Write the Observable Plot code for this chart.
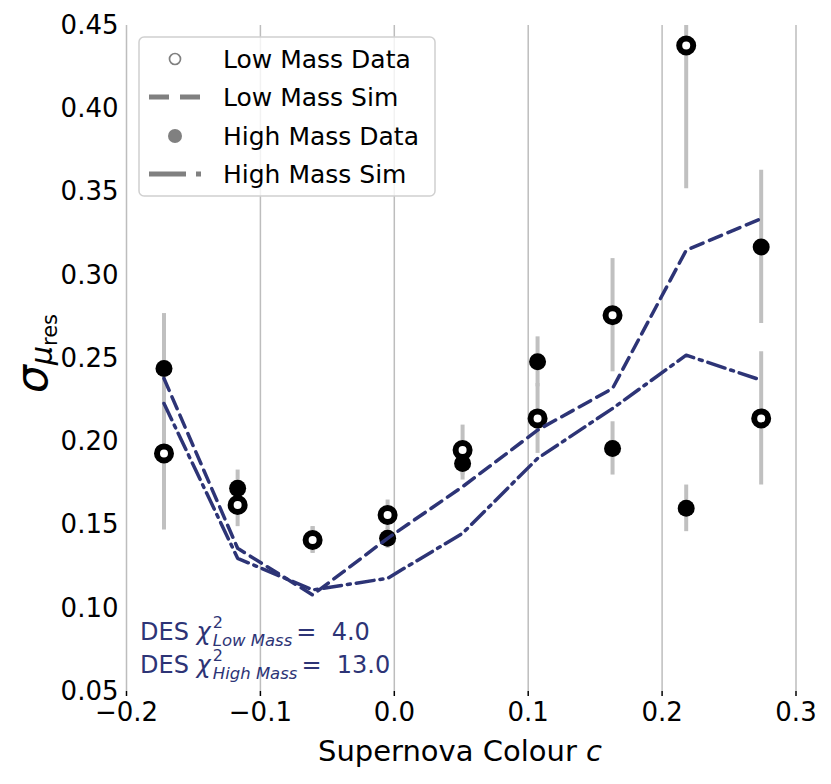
<!DOCTYPE html>
<html><head><meta charset="utf-8">
<script src="https://cdn.jsdelivr.net/npm/d3@7"></script>
<script src="https://cdn.jsdelivr.net/npm/@observablehq/plot@0.6"></script>
<style>
body{margin:0;background:#fff;}
#wrap{width:831px;height:784px;}
</style></head><body><div id="wrap"></div>
<script>
const colour   = [-0.172, -0.117, -0.061, -0.005, 0.051, 0.107, 0.163, 0.218, 0.274];
const lowData  = [0.193, 0.162, 0.141, 0.156, 0.195, 0.214, 0.276, 0.438, 0.214];
const lowErr   = [0.046, 0.013, 0.008, 0.009, 0.015, 0.021, 0.034, 0.086, 0.040];
const highData = [0.244, 0.172, 0.141, 0.142, 0.187, 0.248, 0.196, 0.160, 0.317];
const highErr  = [0.033, 0.011, 0.008, 0.006, 0.010, 0.015, 0.016, 0.014, 0.046];
const lowSim   = [0.238, 0.136, 0.108, 0.142, 0.173, 0.207, 0.232, 0.315, 0.334];
const highSim  = [0.223, 0.130, 0.111, 0.118, 0.145, 0.190, 0.220, 0.252, 0.237];
const xTicks = [-0.2, -0.1, 0.0, 0.1, 0.2, 0.3];
const yTicks = [0.05, 0.10, 0.15, 0.20, 0.25, 0.30, 0.35, 0.40, 0.45];
const legendLabels = ["Low Mass Data", "Low Mass Sim", "High Mass Data", "High Mass Sim"];
const chiLow = "4.0", chiHigh = "13.0";

const NAVY = "#2d3476";
const ERR = "#c0c0c0";
const idx = d3.range(colour.length);

const chart = Plot.plot({
  width: 831, height: 784,
  marginLeft: 126, marginRight: 35.5, marginTop: 25, marginBottom: 93,
  x: {domain: [-0.2, 0.3]},
  y: {domain: [0.05, 0.45]},
  style: {fontFamily: "DejaVu Sans", color: "black", background: "white", overflow: "visible"},
  marks: [
    Plot.gridX(xTicks, {stroke: "#bdbdbd", strokeOpacity: 1, strokeWidth: 1.5}),
    Plot.axisX({ticks: xTicks, tickSize: 5, tickPadding: 6, strokeWidth: 1.5, fontSize: 26, tickFormat: d3.format(".1f"), label: null}),
    Plot.axisY({ticks: yTicks, tickSize: 0, tickPadding: 8, fontSize: 26, tickFormat: d3.format(".2f"), label: null}),
    Plot.ruleX(idx, {x: i => colour[i], y1: i => lowData[i] - lowErr[i], y2: i => lowData[i] + lowErr[i], stroke: ERR, strokeWidth: 4, clip: true}),
    Plot.ruleX(idx, {x: i => colour[i], y1: i => highData[i] - highErr[i], y2: i => highData[i] + highErr[i], stroke: ERR, strokeWidth: 4, clip: true}),
    Plot.dot(idx, {x: i => colour[i], y: i => highData[i], r: 8.5, fill: "black", stroke: "none"}),
    Plot.dot(idx, {x: i => colour[i], y: i => lowData[i], r: 7, fill: "white", stroke: "black", strokeWidth: 6}),
    Plot.line(idx, {x: i => colour[i], y: i => lowSim[i], stroke: NAVY, strokeWidth: 3.5, strokeDasharray: "13,7"}),
    Plot.line(idx, {x: i => colour[i], y: i => highSim[i], stroke: NAVY, strokeWidth: 3.5, strokeDasharray: "18,6,3,6"})
  ]
});
document.getElementById("wrap").appendChild(chart);

const svg = d3.select(chart);
const g = svg.append("g").attr("font-family", "DejaVu Sans").attr("text-anchor", "start");

// Legend
const lg = g.append("g");
lg.append("rect").attr("x", 139).attr("y", 37).attr("width", 296).attr("height", 159).attr("rx", 5)
  .attr("fill", "white").attr("fill-opacity", 0.8).attr("stroke", "#d0d0d0").attr("stroke-width", 1.5);
const rowY = [59, 97, 136, 174];
lg.append("circle").attr("cx", 175).attr("cy", rowY[0]).attr("r", 5.5).attr("fill", "white").attr("stroke", "#808080").attr("stroke-width", 1.7);
lg.append("line").attr("x1", 149).attr("x2", 202).attr("y1", rowY[1]).attr("y2", rowY[1]).attr("stroke", "#808080").attr("stroke-width", 5).attr("stroke-dasharray", "20,11");
lg.append("circle").attr("cx", 175).attr("cy", rowY[2]).attr("r", 7).attr("fill", "#808080");
lg.append("line").attr("x1", 149).attr("x2", 202).attr("y1", rowY[3]).attr("y2", rowY[3]).attr("stroke", "#808080").attr("stroke-width", 5).attr("stroke-dasharray", "37,10,5,10");
legendLabels.forEach((t, k) => {
  lg.append("text").attr("x", 223).attr("y", rowY[k] + 9).attr("font-size", 25).attr("fill", "black").text(t);
});

// x label
const xl = g.append("text").attr("x", 460).attr("y", 761).attr("font-size", 29).attr("text-anchor", "middle").attr("fill", "black");
xl.append("tspan").text("Supernova Colour ");
xl.append("tspan").attr("font-style", "italic").text("c");

// y label
const yl = g.append("text").attr("transform", "translate(47,393) rotate(-90)").attr("font-size", 44).attr("fill", "black");
yl.append("tspan").attr("font-style", "italic").text("σ");
yl.append("tspan").attr("font-style", "italic").attr("font-size", 30).attr("dy", 5).text("μ");
yl.append("tspan").attr("font-size", 21).attr("dy", 5).text("res");

// chi^2 annotations
function chiLine(y, sub, val) {
  const t1 = g.append("text").attr("x", 140).attr("y", y).attr("font-size", 24).attr("fill", NAVY);
  t1.append("tspan").text("DES ");
  t1.append("tspan").attr("font-style", "italic").text("χ");
  const x1 = 140 + t1.node().getComputedTextLength() + 2;
  g.append("text").attr("x", x1).attr("y", y - 12).attr("font-size", 16).attr("fill", NAVY).text("2");
  const s = g.append("text").attr("x", x1).attr("y", y + 6).attr("font-size", 16.5).attr("font-style", "italic").attr("fill", NAVY).text(sub);
  const x2 = x1 + s.node().getComputedTextLength() + 4;
  g.append("text").attr("x", x2).attr("y", y).attr("font-size", 24).attr("fill", NAVY).attr("xml:space", "preserve").text("=  " + val);
}
chiLine(640, "Low Mass", chiLow);
chiLine(673, "High Mass", chiHigh);
</script>
</body></html>
